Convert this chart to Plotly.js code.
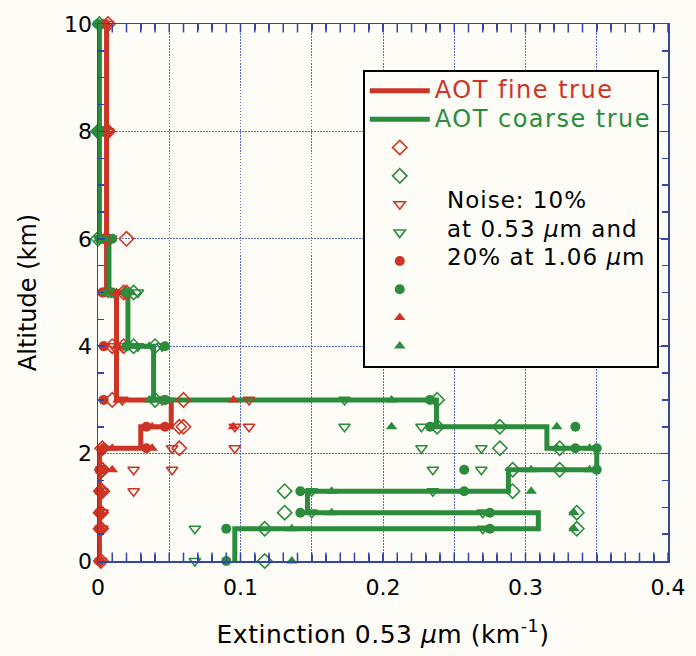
<!DOCTYPE html>
<html><head><meta charset="utf-8">
<script src="https://cdn.plot.ly/plotly-3.0.1.min.js"></script>
<style>html,body{margin:0;padding:0;background:#fdfcf6;}</style>
</head><body><div id="chart" style="width:696px;height:656px;"></div>
<script>
// Layer boundaries (km) — each layer value is drawn from its bottom to its top boundary
const layerBounds = [0, 0.6, 0.9, 1.3, 1.7, 2.1, 2.5, 3, 4, 5, 6, 8, 10];

// True profiles (extinction, km^-1) per layer
const fineTrue   = [0.001, 0.001, 0.001, 0.001, 0.001, 0.030, 0.0514, 0.013, 0.013, 0.006, 0.006, 0.006];
const coarseTrue = [0.096, 0.309, 0.147, 0.288, 0.350, 0.315, 0.2375, 0.039, 0.021, 0.0077, 0.001, 0.001];

// Retrieved profiles per layer
const fineDiamond    = [0.002, 0.002, 0.002, 0.003, 0.003, 0.057, 0.060, 0.010, 0.018, 0.020, 0.006, 0.007];
const coarseDiamond  = [0.117, 0.336, 0.131, 0.291, 0.324, 0.282, 0.238, 0.040, 0.025, -0.002, 0.000, 0.001];
const fineTriDown    = [0.002, 0.003, 0.003, 0.025, 0.052, 0.096, 0.106, 0.017, 0.011, 0.009, 0.007, 0.007];
const coarseTriDown  = [0.068, 0.270, 0.150, 0.235, 0.269, 0.227, 0.173, 0.045, 0.028, 0.007, 0.001, 0.001];
const fineCircle     = [0.001, 0.001, 0.001, 0.001, 0.004, 0.034, 0.047, 0.004, 0.004, 0.003, 0.005, 0.005];
const coarseCircle   = [0.090, 0.275, 0.142, 0.257, 0.350, 0.335, 0.233, 0.047, 0.020, 0.010, 0.001, 0.000];
const fineTriUp      = [0.001, 0.002, 0.002, 0.002, 0.010, 0.038, 0.095, 0.014, 0.013, 0.006, 0.006, 0.006];
const coarseTriUp    = [0.136, 0.334, 0.164, 0.304, 0.345, 0.322, 0.206, 0.036, 0.023, 0.005, 0.001, 0.000];

// Tick labels
const xTickVals = [0, 0.1, 0.2, 0.3, 0.4];
const xTickText = ['0', '0.1', '0.2', '0.3', '0.4'];
const yTickVals = [0, 2, 4, 6, 8, 10];
const yTickText = ['0', '2', '4', '6', '8', '10'];

const RED = '#cc3526';
const GREEN = '#2b8c3d';
const BLUE = '#3246a8';
const FONT = 'DejaVu Sans, sans-serif';

// Small x tick positions (every 0.01) on the bottom and top frame
const xSmallTicks = [];
for (let i = 0; i <= 40; i++) { xSmallTicks.push(+(i * 0.01).toFixed(2)); }

function stepX(vals) { const xs = []; vals.forEach(v => { xs.push(v, v); }); return xs; }
function stepY() { const ys = []; for (let i = 0; i < layerBounds.length - 1; i++) { ys.push(layerBounds[i], layerBounds[i + 1]); } return ys; }

function lineTrace(name, vals, color) {
  return { type: 'scatter', mode: 'lines', x: stepX(vals), y: stepY(), name: name,
           line: { color: color, width: 5 }, hoverinfo: 'skip' };
}
function markerTrace(vals, color, symbol, size, open) {
  return { type: 'scatter', mode: 'markers', x: stepX(vals), y: stepY(), name: ' ',
           cliponaxis: false,
           marker: { symbol: symbol, color: color, size: size, line: { color: color, width: open ? 1.6 : 0 } } };
}
function tickMarkTrace(yPos) {
  return { type: 'scatter', mode: 'markers', x: xSmallTicks, y: xSmallTicks.map(() => yPos),
           showlegend: false, hoverinfo: 'skip', cliponaxis: true,
           marker: { symbol: 'line-ns', size: 12, color: BLUE, line: { color: BLUE, width: 1.5 } } };
}

const data = [
  { type: 'scatter', mode: 'markers', x: [null], y: [null], xaxis: 'x2', yaxis: 'y2', showlegend: false, hoverinfo: 'skip' },
  { type: 'scatter', mode: 'markers', x: [null], y: [null], xaxis: 'x3', yaxis: 'y3', showlegend: false, hoverinfo: 'skip' },
  tickMarkTrace(0),
  tickMarkTrace(10),
  lineTrace('<span style="color:' + RED + ';font-size:24px;letter-spacing:1.5px">AOT fine true</span>', fineTrue, RED),
  lineTrace('<span style="color:' + GREEN + ';font-size:24px;letter-spacing:1.5px">AOT coarse true</span>', coarseTrue, GREEN),
  markerTrace(fineDiamond, RED, 'diamond-open', 11, true),
  markerTrace(coarseDiamond, GREEN, 'diamond-open', 11, true),
  markerTrace(fineTriDown, RED, 'triangle-down-open', 10, true),
  markerTrace(coarseTriDown, GREEN, 'triangle-down-open', 10, true),
  markerTrace(fineCircle, RED, 'circle', 10, false),
  markerTrace(coarseCircle, GREEN, 'circle', 10, false),
  markerTrace(fineTriUp, RED, 'triangle-up', 10, false),
  markerTrace(coarseTriUp, GREEN, 'triangle-up', 10, false)
];

const axisCommon = {
  showline: true, linecolor: BLUE, linewidth: 1.5, mirror: 'ticks',
  ticks: 'inside', ticklen: 7, tickcolor: BLUE, tickwidth: 1.6,
  showgrid: false, zeroline: false, tickfont: { family: FONT, size: 22, color: '#000' }
};
const gridCommon = {
  showgrid: true, gridcolor: '#5568cc', gridwidth: 1, griddash: '1.5px,1.5px',
  showticklabels: false, ticks: '', showline: false, zeroline: false, tickmode: 'linear', tick0: 0
};
const smallTickCommon = {
  showgrid: false, showticklabels: false, showline: false, zeroline: false,
  ticks: 'inside', ticklen: 6, tickwidth: 1.5, tickcolor: BLUE, mirror: 'ticks',
  tickmode: 'linear', tick0: 0
};

const layout = {
  width: 696, height: 656,
  margin: { l: 98, r: 28, t: 24, b: 95 },
  paper_bgcolor: '#fdfcf6', plot_bgcolor: '#fdfcf6',
  showlegend: true,
  xaxis: Object.assign({}, axisCommon, {
    range: [0, 0.4], tickmode: 'array', tickvals: xTickVals, ticktext: xTickText,
    ticklabelstandoff: 6,
    title: { text: '<span style="letter-spacing:0.5px">Extinction 0.53 <i>μ</i>m (km<sup>-1</sup>)</span>', font: { family: FONT, size: 25, color: '#000' }, standoff: 26 }
  }),
  yaxis: Object.assign({}, axisCommon, {
    range: [0, 10], tickmode: 'array', tickvals: yTickVals, ticktext: yTickText,
    title: { text: 'Altitude (km)', font: { family: FONT, size: 24, color: '#000' }, standoff: 20 }
  }),
  xaxis2: Object.assign({}, gridCommon, { overlaying: 'x', anchor: 'y', range: [0, 0.4], dtick: 0.05 }),
  yaxis2: Object.assign({}, gridCommon, { overlaying: 'y', anchor: 'x', range: [0, 10], dtick: 2 }),
  xaxis3: Object.assign({}, smallTickCommon, { overlaying: 'x', anchor: 'y3', side: 'bottom', range: [0, 0.4], dtick: 0.01 }),
  yaxis3: Object.assign({}, smallTickCommon, { overlaying: 'y', anchor: 'x3', side: 'left', range: [0, 10], dtick: 0.5 }),
  legend: {
    x: 0.4645, y: 0.915, xanchor: 'left', yanchor: 'top',
    bgcolor: '#fdfcf6', bordercolor: '#000', borderwidth: 2,
    font: { family: FONT, size: 19.5, color: '#000' },
    itemwidth: 60, tracegroupgap: 0
  },
  annotations: [
    { xref: 'paper', yref: 'paper', x: 0.609, y: 0.672, xanchor: 'left', yanchor: 'middle', showarrow: false,
      text: '<span style="letter-spacing:1px">Noise: 10%</span>', font: { family: FONT, size: 23, color: '#000' } },
    { xref: 'paper', yref: 'paper', x: 0.609, y: 0.618, xanchor: 'left', yanchor: 'middle', showarrow: false,
      text: '<span style="letter-spacing:1px">at 0.53 <i>μ</i>m and</span>', font: { family: FONT, size: 23, color: '#000' } },
    { xref: 'paper', yref: 'paper', x: 0.609, y: 0.567, xanchor: 'left', yanchor: 'middle', showarrow: false,
      text: '<span style="letter-spacing:1px">20% at 1.06 <i>μ</i>m</span>', font: { family: FONT, size: 23, color: '#000' } }
  ]
};

Plotly.newPlot('chart', data, layout, { displayModeBar: false, staticPlot: true });
</script></body></html>
